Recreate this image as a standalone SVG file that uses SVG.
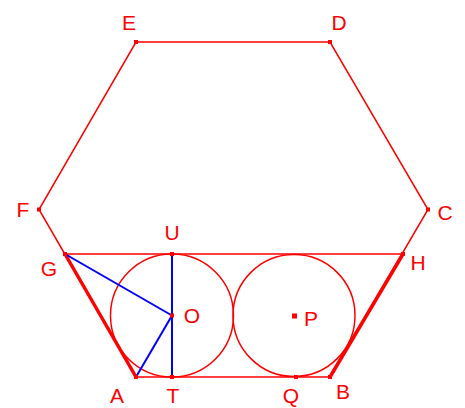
<svg xmlns="http://www.w3.org/2000/svg" width="465" height="408" viewBox="0 0 465 408">
<style>
.r{fill:none;stroke:#ff0000;stroke-width:1.5}
.t{fill:none;stroke:#ff0000;stroke-width:3.5}
.b{fill:none;stroke:#0000ff;stroke-width:2}
.p{fill:#ff0000}
text{font-family:"Liberation Sans",Arial,sans-serif;font-size:21px;fill:#ff0000;text-anchor:middle}
</style>
<rect width="465" height="408" fill="#fff"/>
<g id="connectors">
<polygon class="r" points="136,42 330,42 428,209.5 330,377 136,377 39,209.5"/>
<line class="r" x1="65" y1="254" x2="403" y2="254"/>
<circle class="r" cx="172" cy="315.5" r="61.5"/>
<circle class="r" cx="294" cy="315.5" r="61"/>
<line class="t" x1="65" y1="254" x2="136" y2="377"/>
<line class="t" x1="403" y1="254" x2="330" y2="377"/>
<line class="b" x1="65" y1="254" x2="172" y2="315.5"/>
<line class="b" x1="172" y1="315.5" x2="136" y2="377"/>
<line class="b" x1="172" y1="254" x2="172" y2="377"/>
</g>
<g id="E"><rect class="p" x="134" y="40" width="4" height="4"/><text x="129" y="30">E</text></g>
<g id="D"><rect class="p" x="328" y="40" width="4" height="4"/><text x="339" y="30">D</text></g>
<g id="C"><rect class="p" x="426" y="207.5" width="4" height="4"/><text x="445" y="220">C</text></g>
<g id="F"><rect class="p" x="37" y="207.5" width="4" height="4"/><text x="23" y="217">F</text></g>
<g id="G"><rect class="p" x="63" y="252" width="4" height="4"/><text x="49" y="276">G</text></g>
<g id="H"><rect class="p" x="401" y="252" width="4" height="4"/><text x="418" y="270">H</text></g>
<g id="U"><rect class="p" x="170" y="252" width="4" height="4"/><text x="172" y="240">U</text></g>
<g id="O"><rect class="p" x="170" y="313.5" width="4" height="4"/><text x="192" y="323">O</text></g>
<g id="P"><rect class="p" x="292" y="313.5" width="5" height="5"/><text x="311" y="326">P</text></g>
<g id="A"><rect class="p" x="134" y="375" width="4" height="4"/><text x="117" y="403">A</text></g>
<g id="T"><rect class="p" x="170" y="375" width="4" height="4"/><text x="173" y="403">T</text></g>
<g id="Q"><rect class="p" x="294" y="375" width="4" height="4"/><text x="291" y="403">Q</text></g>
<g id="B"><rect class="p" x="328" y="375" width="4" height="4"/><text x="343" y="399">B</text></g>
</svg>
